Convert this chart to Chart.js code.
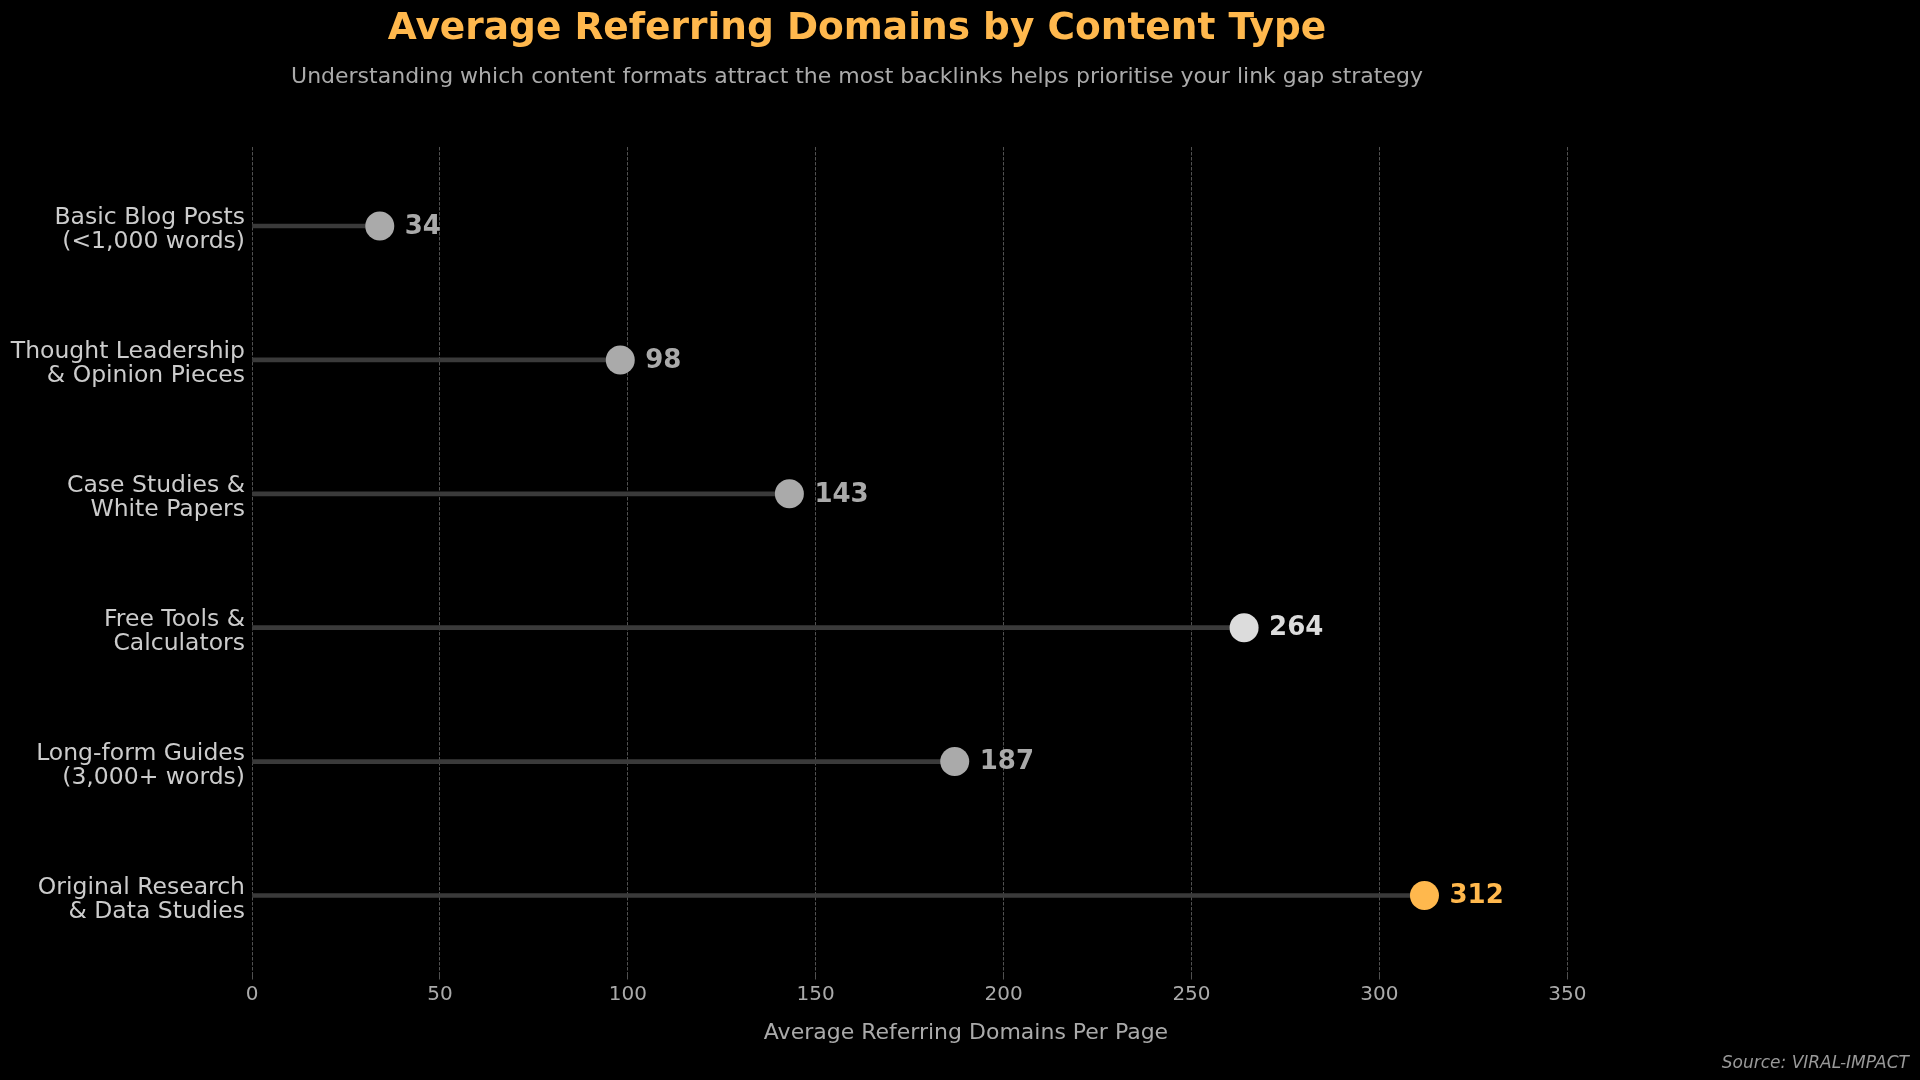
<!DOCTYPE html>
<html>
<head>
<meta charset="utf-8">
<title>Average Referring Domains by Content Type</title>
<script src="https://cdn.jsdelivr.net/npm/chart.js@4.4.1/dist/chart.umd.min.js"></script>
<style>
  html, body { margin: 0; padding: 0; background: #000; }
  canvas { display: block; }
</style>
</head>
<body>
<canvas id="chartLollipop" width="1920" height="1080"></canvas>
<script>
// categories, top to bottom
const categories = [
    ['Basic Blog Posts', '(<1,000 words)'],
    ['Thought Leadership', '& Opinion Pieces'],
    ['Case Studies &', 'White Papers'],
    ['Free Tools &', 'Calculators'],
    ['Long-form Guides', '(3,000+ words)'],
    ['Original Research', '& Data Studies']
];
const values = [34, 98, 143, 264, 187, 312];

const titleText = 'Average Referring Domains by Content Type';
const subtitleText = 'Understanding which content formats attract the most backlinks helps prioritise your link gap strategy';
const xTitle = 'Average Referring Domains Per Page';
const sourceText = 'Source: VIRAL-IMPACT';

const FONT = "'DejaVu Sans', 'Noto Sans', sans-serif";
const ORANGE = '#ffb84d';

// highest value orange, runner-up lighter grey, the rest grey
const ranked = [...values].sort((a, b) => b - a);
const dotColors = values.map(v => v === ranked[0] ? ORANGE : (v === ranked[1] ? '#dcdcdc' : '#aaaaaa'));

const points = values.map((v, i) => ({ x: v, y: i }));

const textPlugin = {
    id: 'textPlugin',
    afterDatasetsDraw(chart) {
        const ctx = chart.ctx;
        const meta = chart.getDatasetMeta(1);
        ctx.save();
        ctx.font = 'bold 26px ' + FONT;
        ctx.textAlign = 'left';
        ctx.textBaseline = 'middle';
        meta.data.forEach((pt, i) => {
            ctx.fillStyle = dotColors[i];
            ctx.fillText(String(values[i]), pt.x + 25, pt.y + 1);
        });
        ctx.restore();
    },
    afterDraw(chart) {
        const ctx = chart.ctx;
        ctx.save();
        ctx.textAlign = 'center';
        ctx.textBaseline = 'alphabetic';
        ctx.fillStyle = ORANGE;
        ctx.font = 'bold 37.5px ' + FONT;
        ctx.fillText(titleText, 857, 39);
        ctx.fillStyle = '#aaaaaa';
        ctx.font = '22px ' + FONT;
        ctx.fillText(subtitleText, 857, 83);
        ctx.textAlign = 'right';
        ctx.fillStyle = '#999999';
        ctx.font = 'italic 17px ' + FONT;
        ctx.fillText(sourceText, 1909, 1068);
        ctx.restore();
    }
};

const ctx = document.getElementById('chartLollipop').getContext('2d');
const chart = new Chart(ctx, {
    type: 'bar',
    data: {
        datasets: [{
            type: 'bar',
            data: points,
            indexAxis: 'y',
            backgroundColor: '#3a3a3a',
            borderWidth: 0,
            barThickness: 4,
            order: 2
        }, {
            type: 'scatter',
            data: points,
            pointRadius: 14.5,
            pointBackgroundColor: dotColors,
            pointBorderWidth: 0,
            showLine: false,
            order: 1
        }]
    },
    options: {
        indexAxis: 'y',
        responsive: false,
        devicePixelRatio: 1,
        animation: false,
        events: [],
        layout: {
            padding: { top: 147, right: 240, bottom: 31, left: 0 }
        },
        plugins: {
            legend: { display: false },
            tooltip: { enabled: false }
        },
        scales: {
            x: {
                type: 'linear',
                min: 0,
                max: 380,
                grid: {
                    color: '#505050',
                    lineWidth: 1,
                    drawTicks: true,
                    tickLength: 5,
                    tickColor: '#505050'
                },
                border: { display: false, dash: [3.5, 1.5] },
                ticks: {
                    stepSize: 50,
                    includeBounds: false,
                    color: '#aaaaaa',
                    padding: 3.5,
                    font: { family: FONT, size: 20 }
                },
                title: {
                    display: true,
                    text: xTitle,
                    color: '#aaaaaa',
                    font: { family: FONT, size: 22 },
                    padding: { top: 9.1, bottom: 3 }
                }
            },
            y: {
                type: 'linear',
                reverse: true,
                offset: false,
                min: -0.59,
                max: 5.59,
                border: { display: false },
                grid: { display: false, drawTicks: false, offset: false },
                afterFit(scale) { scale.width = 252; },
                ticks: {
                    stepSize: 1,
                    autoSkip: false,
                    includeBounds: false,
                    padding: 7,
                    labelOffset: 4,
                    color: '#cccccc',
                    font: { family: FONT, size: 23.5, lineHeight: 1.03 },
                    callback: v => Number.isInteger(v) && categories[v] ? categories[v] : ''
                }
            }
        }
    },
    plugins: [textPlugin]
});
</script>
</body>
</html>
